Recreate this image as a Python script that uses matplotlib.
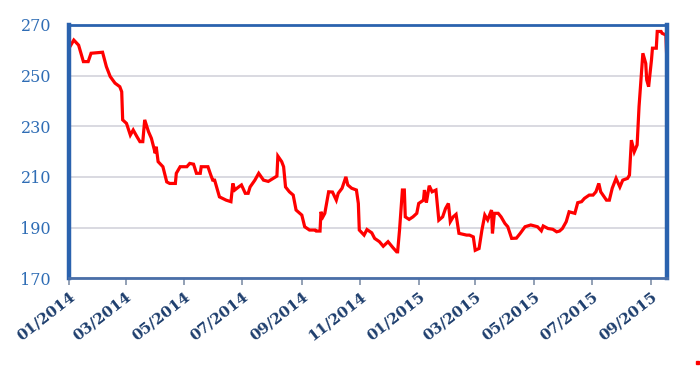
import numpy as np
import pandas as pd
import matplotlib
matplotlib.use("Agg")
import matplotlib.pyplot as plt
import matplotlib.dates as mdates
from matplotlib.patches import Rectangle

# days since 2014-01-01
day = [0, 5, 10, 15, 20, 23, 35, 39, 43, 48, 53, 55, 56, 60, 64, 67, 71, 74, 77, 79,
       83, 86, 90, 91, 93, 98, 102, 105, 111, 112, 116, 123, 126, 130, 133, 137, 138, 145, 148, 150,
       152, 154, 157, 164, 169, 171, 173, 177, 180, 184, 187, 189, 194, 198, 203, 208, 217, 218, 222, 224,
       226, 230, 234, 237, 243, 246, 251, 257, 258, 262, 263, 265, 267, 271, 275, 279, 281, 285, 289, 291,
       295, 300, 302, 303, 308, 311, 316, 319, 324, 328, 333, 338, 342, 343, 345, 348, 350, 351, 355, 359,
       363, 365, 370, 371, 373, 376, 379, 383, 386, 390, 393, 396, 398, 401, 404, 407, 415, 418, 422, 424,
       428, 431, 434, 437, 441, 442, 444, 448, 451, 455, 458, 462, 467, 471, 476, 482, 489, 493, 495, 500,
       505, 509, 512, 515, 519, 522, 528, 531, 535, 538, 543, 547, 550, 553, 555, 561, 564, 567, 571, 575,
       578, 583, 585, 587, 590, 593, 595, 599, 602, 603, 605, 608, 609, 613, 614, 618, 619, 623, 624]
price = [260.8, 264, 262, 255.5, 255.5, 258.8, 259.2, 253.5, 249.6, 247, 245.6, 243.6, 232.5, 231.1, 226.5, 228.5, 225.8, 223.9, 223.9, 232.5,
         227.8, 225.2, 219.3, 221.9, 216, 214, 208, 207.4, 207.4, 211.4, 214, 214, 215.3, 215, 211.4, 211.4, 214, 214, 210.7, 208.7,
         208.7, 206, 202.1, 200.8, 200.2, 207.4, 204.8, 206, 206.8, 203.5, 203.5, 206, 208.7, 211.4, 208.7, 208.2, 210.3, 218.2, 216, 214,
         206, 204.1, 202.8, 196.9, 194.9, 190.3, 189, 189, 188.6, 188.6, 196.2, 194.2, 195.6, 204.1, 204, 200.8, 203.5, 205.5, 210, 206.8,
         205.5, 204.8, 199.5, 189, 187, 189.2, 187.9, 185.7, 184.4, 182.6, 184.4, 182.1, 180.4, 180.4, 189, 204.8, 204.8, 194.2, 193.2, 194.2,
         195.6, 199.5, 200.8, 204.8, 199.8, 206.5, 204.1, 204.8, 192.9, 194.2, 197.5, 199.5, 192.3, 194.2, 195.2, 187.7, 187, 187, 186.3, 181,
         181.7, 189, 194.9, 193, 196.9, 187.7, 195.6, 195.6, 194.2, 191.6, 190.3, 185.7, 185.8, 187.7, 190.3, 191, 190.3, 188.7, 190.6, 189.6,
         189.3, 188.3, 188.6, 189.6, 192.3, 196.2, 195.6, 199.8, 200.2, 201.5, 202.8, 202.8, 204.1, 207.4, 204.1, 200.8, 200.8, 205.5, 209.4, 206,
         208.7, 209.4, 210.7, 224.5, 219.9, 222.6, 237.7, 258.8, 254.8, 248.3, 245.6, 256.2, 260.8, 260.8, 267.4, 267.4, 266.7, 266, 256.2]

yticks = [170, 190, 210, 230, 250, 270]

start = pd.Timestamp("2014-01-01")
dates = start + pd.to_timedelta(day, unit="D")

fig = plt.figure(figsize=(7, 3.66), dpi=100)
ax = fig.add_axes([0.0986, 0.240, 0.854, 0.692])

ax.plot(dates, price, color="#ff0000", linewidth=2.3, solid_joinstyle="miter")

ax.set_ylim(170, 270)
ax.set_xlim(start, start + pd.Timedelta(days=624))
ax.set_yticks(yticks)
ax.grid(axis="y", color="#d3d3dc", linewidth=1.2)
ax.set_axisbelow(True)

blue = "#2a62ae"
for side, lw in [("left", 3.2), ("right", 3.2), ("top", 2.0), ("bottom", 2.0)]:
    ax.spines[side].set_color(blue)
    ax.spines[side].set_linewidth(lw)
ax.spines["bottom"].set_color("#4a6fa8")

ax.xaxis.set_major_locator(mdates.MonthLocator(bymonth=[1, 3, 5, 7, 9, 11]))
ax.xaxis.set_major_formatter(mdates.DateFormatter("%m/%Y"))
ax.tick_params(axis="y", length=0, pad=13, labelcolor="#2f6db5", labelsize=11.5)
ax.tick_params(axis="x", length=5, width=1.2, color="#8090a8", pad=3)
for lab in ax.get_yticklabels():
    lab.set_fontfamily("DejaVu Serif")
for lab in ax.get_xticklabels():
    lab.set_fontfamily("DejaVu Serif")
    lab.set_fontweight("bold")
    lab.set_fontsize(11)
    lab.set_color("#1f3f6e")
    lab.set_rotation(38)
    lab.set_ha("right")
    lab.set_va("top")
    lab.set_rotation_mode("anchor")

# stray red mark in the bottom right corner
fig.patches.append(Rectangle((0.994, 0.005), 0.004, 0.008, transform=fig.transFigure,
                             color="#ff0000", zorder=5))

plt.savefig("out.png", dpi=100)
